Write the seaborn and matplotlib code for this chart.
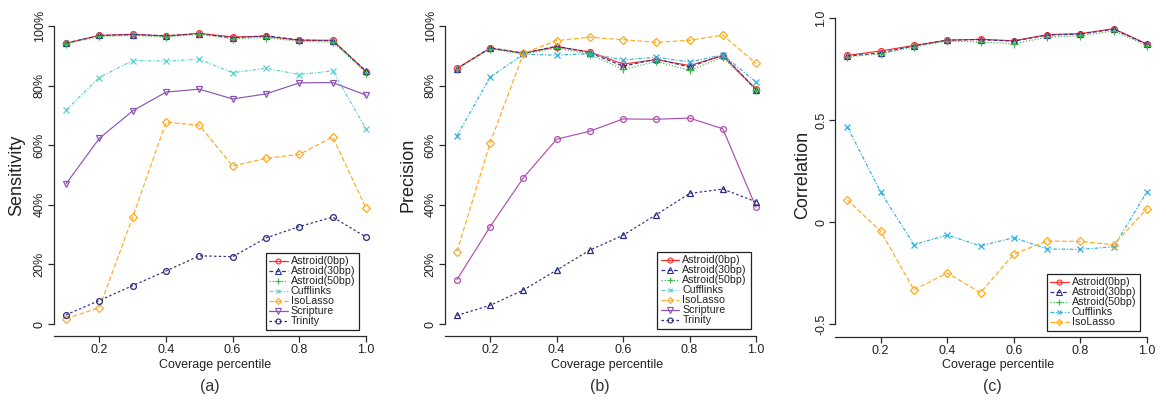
import matplotlib
matplotlib.use("Agg")
import matplotlib.pyplot as plt
from matplotlib.lines import Line2D
from matplotlib.legend_handler import HandlerLine2D
import numpy as np
import pandas as pd
import seaborn as sns

# ---------------- data ----------------
coverage = [0.1, 0.2, 0.3, 0.4, 0.5, 0.6, 0.7, 0.8, 0.9, 1.0]

sens_astroid0 = [94.2, 96.8, 97.2, 96.6, 97.5, 96.3, 96.5, 95.2, 95.2, 84.7]
sens_astroid30 = [94.2, 96.8, 97.1, 96.7, 97.4, 96.0, 96.7, 95.3, 95.0, 84.9]
sens_astroid50 = [94.0, 96.5, 96.8, 96.3, 97.2, 95.7, 96.1, 94.8, 94.6, 84.3]
sens_cufflinks = [71.8, 82.7, 88.4, 88.2, 88.8, 84.3, 85.8, 83.7, 84.9, 65.5]
sens_isolasso = [1.8, 5.5, 35.8, 67.7, 66.7, 53.0, 55.6, 56.9, 62.8, 38.9]
sens_scripture = [47.0, 62.3, 71.5, 77.8, 78.8, 75.5, 77.2, 80.9, 81.0, 76.8]
sens_trinity = [3.1, 7.9, 12.9, 17.8, 22.9, 22.6, 28.9, 32.7, 35.9, 29.2]

prec_astroid0 = [85.8, 92.5, 90.9, 93.0, 91.3, 87.2, 88.7, 86.7, 90.0, 78.8]
prec_astroid30 = [85.6, 92.7, 90.8, 93.2, 91.0, 86.5, 88.9, 86.2, 90.3, 78.6]
prec_astroid50 = [85.4, 92.4, 90.5, 92.6, 90.5, 85.4, 88.1, 85.1, 89.5, 78.4]
prec_cufflinks = [63.2, 82.8, 90.5, 90.2, 90.7, 88.6, 89.5, 87.9, 90.3, 81.2]
prec_isolasso = [24.3, 60.8, 90.8, 95.1, 96.2, 95.4, 94.5, 95.2, 96.9, 87.4]
prec_scripture = [14.9, 32.7, 49.1, 62.0, 64.7, 68.8, 68.7, 69.1, 65.5, 39.2]
prec_trinity = [2.9, 6.3, 11.4, 18.1, 24.8, 29.8, 36.7, 43.8, 45.3, 41.0]

corr_astroid0 = [0.818, 0.840, 0.867, 0.893, 0.897, 0.890, 0.920, 0.925, 0.949, 0.874]
corr_astroid30 = [0.815, 0.830, 0.865, 0.893, 0.896, 0.888, 0.918, 0.923, 0.947, 0.872]
corr_astroid50 = [0.812, 0.826, 0.860, 0.888, 0.884, 0.875, 0.908, 0.915, 0.938, 0.866]
corr_cufflinks = [0.468, 0.148, -0.110, -0.062, -0.116, -0.075, -0.131, -0.133, -0.120, 0.150]
corr_isolasso = [0.110, -0.044, -0.331, -0.249, -0.345, -0.156, -0.092, -0.094, -0.110, 0.067]

methods = ["Astroid(0bp)", "Astroid(30bp)", "Astroid(50bp)", "Cufflinks",
           "IsoLasso", "Scripture", "Trinity"]

pct_ticks = [0, 20, 40, 60, 80, 100]
pct_labels = ["0", "20%", "40%", "60%", "80%", "100%"]
corr_ticks = [-0.5, 0.0, 0.5, 1.0]
corr_labels = ["-0.5", "0", "0.5", "1.0"]
x_ticks = [0.2, 0.4, 0.6, 0.8, 1.0]
x_labels = ["0.2", "0.4", "0.6", "0.8", "1.0"]

# ---------------- styles ----------------
RED = "#FF2A2A"
NAVY = "#2E2E96"
GREEN = "#3CB84A"
CYAN_A = "#5CCFD0"
CYAN_B = "#2FB0E0"
ORANGE = "#FFAA22"
PURPLE = "#8A55B5"
MAGENTA = "#B04EAE"
TRINITY = "#2A2A80"

style = {
    "Astroid(0bp)": dict(color=RED, marker="o", ls="-"),
    "Astroid(30bp)": dict(color=NAVY, marker="^", ls=(0, (3, 2))),
    "Astroid(50bp)": dict(color=GREEN, marker="+", ls=(0, (1, 1.5))),
    "Cufflinks": dict(color=CYAN_A, marker="x", ls=(0, (3, 1.5, 1, 1.5))),
    "IsoLasso": dict(color=ORANGE, marker="D", ls=(0, (4, 2))),
    "Scripture": dict(color=PURPLE, marker="v", ls="-"),
    "Trinity": dict(color=TRINITY, marker="o", ls=(0, (2, 2))),
}
msize = {"o": 4.2, "^": 4.5, "+": 5.5, "x": 4.0, "D": 3.6, "v": 4.5}

sns.set_theme(style="ticks")
plt.rcParams["font.family"] = ["Liberation Sans", "DejaVu Sans"]
plt.rcParams["axes.linewidth"] = 0.9

fig = plt.figure(figsize=(11.66, 4.0), dpi=100)

ax_pos = [
    [54 / 1166, 64 / 400, 324 / 1166, 322 / 400],
    [445 / 1166, 64 / 400, 323 / 1166, 322 / 400],
    [835.4 / 1166, 63.5 / 400, 323.6 / 1166, 330.4 / 400],
]
axes = [fig.add_axes(p) for p in ax_pos]


def draw(ax, name, values, color=None, marker=None):
    st = dict(style[name])
    if color is not None:
        st["color"] = color
    if marker is not None:
        st["marker"] = marker
    df = pd.DataFrame({"x": coverage, "y": values})
    mk = st["marker"]
    face = "none" if mk not in ("+", "x") else st["color"]
    sns.lineplot(data=df, x="x", y="y", ax=ax, color=st["color"],
                 linestyle=st["ls"], linewidth=0.85, marker=mk,
                 markersize=msize[mk], markerfacecolor=face,
                 markeredgecolor=st["color"], markeredgewidth=0.9,
                 errorbar=None, legend=False)


sens = [sens_astroid0, sens_astroid30, sens_astroid50, sens_cufflinks,
        sens_isolasso, sens_scripture, sens_trinity]
prec = [prec_astroid0, prec_astroid30, prec_astroid50, prec_cufflinks,
        prec_isolasso, prec_scripture, prec_trinity]
corr = [corr_astroid0, corr_astroid30, corr_astroid50, corr_cufflinks,
        corr_isolasso]

for name, v in zip(methods, sens):
    draw(axes[0], name, v)

for name, v in zip(methods, prec):
    if name == "Cufflinks":
        draw(axes[1], name, v, color=CYAN_B)
    elif name == "Scripture":
        draw(axes[1], name, v, color=MAGENTA, marker="o")
    elif name == "Trinity":
        draw(axes[1], name, v, color=TRINITY, marker="^")
    else:
        draw(axes[1], name, v)

for name, v in zip(methods[:5], corr):
    if name == "Cufflinks":
        draw(axes[2], name, v, color=CYAN_B)
    else:
        draw(axes[2], name, v)


class LeftMarkerHandler(HandlerLine2D):
    def get_xdata(self, legend, xdescent, ydescent, width, height, fontsize):
        xdata = np.array([-xdescent, -xdescent + width], float)
        return xdata, np.array([-xdescent + 1.5], float)


def handles_for(names, cyan):
    hs = []
    for n in names:
        st = style[n]
        c = cyan if n == "Cufflinks" else st["color"]
        mk = st["marker"]
        face = "none" if mk not in ("+", "x") else c
        hs.append(Line2D([], [], color=c, linestyle=st["ls"], linewidth=0.9,
                         marker=mk, markersize=msize[mk] * 0.85,
                         markerfacecolor=face, markeredgecolor=c,
                         markeredgewidth=0.8, label=n))
    return hs


spine_col = "#2a2a2a"
for i, ax in enumerate(axes):
    ax.set_xlim(0.064, 1.036)
    if i < 2:
        ax.set_ylim(-4, 104)
        ax.set_yticks(pct_ticks)
        ax.set_yticklabels(pct_labels)
        ax.spines["left"].set_bounds(0, 100)
    else:
        ax.set_ylim(-0.56, 1.06)
        ax.set_yticks(corr_ticks)
        ax.set_yticklabels(corr_labels)
        ax.spines["left"].set_bounds(-0.5, 1.0)
    ax.set_xticks(x_ticks)
    ax.set_xticklabels(x_labels)
    ax.spines["bottom"].set_bounds(0.064, 1.0)
    for s in ("top", "right"):
        ax.spines[s].set_visible(False)
    for s in ("left", "bottom"):
        ax.spines[s].set_color(spine_col)
        ax.spines[s].set_linewidth(0.9)
    ax.tick_params(axis="both", length=4, width=0.9, color=spine_col,
                   labelsize=9, labelcolor="#222222", pad=2)
    for lab in ax.get_yticklabels():
        lab.set_rotation(90)
        lab.set_va("center")
    ax.set_xlabel("")
    ax.set_ylabel("")
    ax.grid(False)
    ax.set_facecolor("white")

leg_anchor = [(359 / 1166, 1 - 330 / 400), (750.7 / 1166, 1 - 329 / 400),
              (1140 / 1166, 1 - 331 / 400)]
leg_names = [methods, methods, methods[:5]]
leg_cyan = [CYAN_A, CYAN_A, CYAN_B]
for ax, anc, names, cy in zip(axes, leg_anchor, leg_names, leg_cyan):
    leg = ax.legend(handles=handles_for(names, cy), loc="lower right",
                    bbox_to_anchor=anc, bbox_transform=fig.transFigure,
                    fontsize=7.7, frameon=True, fancybox=False, shadow=False,
                    borderaxespad=0, handlelength=1.7, handletextpad=0.3,
                    labelspacing=0.0, borderpad=0.35,
                    handler_map={Line2D: LeftMarkerHandler(numpoints=1)})
    fr = leg.get_frame()
    fr.set_edgecolor("#222222")
    fr.set_linewidth(0.9)
    fr.set_alpha(1)
    for t in leg.get_texts():
        t.set_color("#222222")

ylabels = ["Sensitivity", "Precision", "Correlation"]
ylab_x = [17, 408, 803]
xlab_x = [215, 607, 998]
sub_x = [210, 600, 992]
subs = ["(a)", "(b)", "(c)"]
for i in range(3):
    fig.text(ylab_x[i] / 1166, 0.5625, ylabels[i], rotation=90, ha="center",
             va="center", fontsize=13, color="#222222")
    fig.text(xlab_x[i] / 1166, 1 - 365 / 400, "Coverage percentile",
             ha="center", va="center", fontsize=9, color="#222222")
    fig.text(sub_x[i] / 1166, 1 - 387 / 400, subs[i], ha="center",
             va="center", fontsize=11.5, color="#333333")

fig.savefig("out.png", dpi=100, facecolor="white")
